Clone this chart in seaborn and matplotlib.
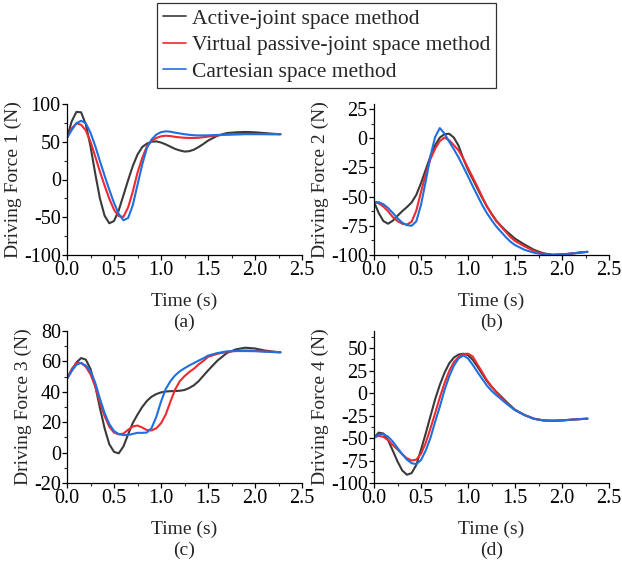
"""Driving forces of the four actuators for three modelling methods."""

import matplotlib
matplotlib.use("Agg")
import matplotlib.pyplot as plt
import numpy as np
import pandas as pd
import seaborn as sns
from matplotlib.ticker import MultipleLocator

# time samples (s)
time = [0.00, 0.05, 0.10, 0.15, 0.20, 0.25, 0.30, 0.35, 0.40, 0.45,
        0.50, 0.55, 0.60, 0.65, 0.70, 0.75, 0.80, 0.85, 0.90, 0.95,
        1.00, 1.05, 1.10, 1.15, 1.20, 1.25, 1.30, 1.35, 1.40, 1.45,
        1.50, 1.60, 1.70, 1.80, 1.90, 2.00, 2.10, 2.20, 2.27]

methods = ["Active-joint space method",
           "Virtual passive-joint space method",
           "Cartesian space method"]

# driving force 1 (N)
f1_active = [55, 77, 89.5, 89, 73, 44, 8, -25, -48, -58,
             -55, -41, -21, -1, 18, 33, 43, 47.5, 50, 50.5,
             49, 46.5, 43.5, 40.5, 38.5, 37, 37.5, 39.5, 43, 47,
             51.5, 58, 61.5, 62.5, 63, 62.5, 61.5, 60.5, 60]
f1_virtual = [55, 67.5, 74.5, 72.5, 65, 50, 30.7, 10.5, -8, -25.5,
              -40, -48.5, -49.5, -37, -16, 9, 28.5, 44, 51, 55,
              57.2, 58, 57.5, 56.5, 55.8, 55.3, 55, 55, 55.3, 56,
              56.8, 58.5, 59.5, 60, 60.3, 60.3, 60.2, 60, 60]
f1_cartesian = [55, 65.5, 74.5, 77.8, 74.5, 62, 44.5, 24.5, 5, -13.5,
                -31, -45.5, -54, -51, -34, -7, 19.6, 41.7, 53, 59.5,
                62.7, 63.8, 63.3, 62, 61, 60, 59.2, 58.6, 58.4, 58.4,
                58.5, 59, 59.5, 59.8, 60, 60, 60, 60, 60]

# driving force 2 (N)
f2_active = [-54.6, -64, -71, -73.2, -70.6, -66.5, -62.5, -59, -55, -48.5,
             -38.5, -27, -15.5, -6, 0.5, 3.5, 3.8, 0.5, -6.5, -17.5,
             -27, -35, -43, -51, -58.3, -64.5, -70.5, -75, -79, -82.5,
             -86, -91, -95.5, -98.5, -99.8, -99.5, -98.8, -97.8, -97.3]
f2_virtual = [-54.6, -55.7, -58.5, -62.6, -67.5, -71, -73.2, -74, -71.5, -62,
              -46, -31, -18, -9, -2.5, 0.6, -1.8, -6, -10.5, -17.5,
              -25.5, -33.5, -41.5, -50, -58.2, -65, -71, -75.5, -80, -84.5,
              -88, -92.5, -96.5, -99, -99.8, -99.5, -98.8, -97.8, -97.3]
f2_cartesian = [-54.6, -54.8, -56.5, -59.8, -64, -68.5, -72.3, -74.4, -75, -71.2,
                -57, -37, -15.5, 1, 8.7, 4, -3, -9.5, -16.5, -24.5,
                -32.6, -41, -49, -57, -64, -70, -75.5, -80, -84.5, -88.5,
                -91.5, -95.5, -98, -99.5, -100, -99.5, -98.8, -97.8, -97.3]

# driving force 3 (N)
f3_active = [48.6, 54, 59.3, 62.2, 61.2, 55, 44, 29.5, 16, 5.5,
             0.5, -0.5, 4, 12, 19.5, 25, 30, 34, 36.8, 38.5,
             39.6, 40.2, 40.4, 40.5, 40.7, 41.2, 42.5, 44.3, 47, 50.5,
             54, 60.5, 65.5, 68, 69, 68.5, 67.2, 66.4, 66]
f3_virtual = [48.6, 55, 59, 59, 56.5, 51.5, 43.5, 33, 24, 17,
              13.2, 12, 12.5, 15, 17.2, 17.8, 16.5, 14.8, 14.6, 16,
              19.3, 25, 33.5, 41.5, 47, 50.3, 53, 55.2, 58, 60.3,
              63, 65, 66.2, 67, 67.2, 67, 66.6, 66.2, 66]
f3_cartesian = [48.6, 53.7, 57.8, 59, 57.3, 53.5, 46, 35.5, 26, 18.8,
                14.2, 12.2, 11.5, 11.6, 12.3, 13, 13, 13.2, 16.2, 23.5,
                33.5, 41.8, 47, 50.8, 53.5, 55.5, 57.3, 58.9, 60.5, 62,
                63.8, 65.5, 66.6, 66.8, 66.8, 66.7, 66.4, 66.1, 66]

# driving force 4 (N)
f4_active = [-49.6, -44, -45, -52.5, -64, -76, -86, -90.8, -89, -80,
             -63, -45, -26, -7, 9, 22.5, 33, 39.5, 42.8, 43.7,
             42.2, 37, 29.5, 21.5, 13.5, 6.8, 1.5, -3.5, -8.8, -13.8,
             -18.5, -24.4, -28.5, -30.4, -30.8, -30.4, -29.6, -28.9, -28.5]
f4_virtual = [-49.6, -47.5, -48.7, -52.3, -57.8, -62.8, -68, -72.5, -75, -74,
              -67.5, -55.5, -39.5, -22.5, -5, 11, 24.5, 34.5, 40, 43.4,
              43.8, 40.7, 32, 23.5, 14.5, 7.5, 1.2, -4.5, -9.8, -14.5,
              -18.8, -24.4, -28.5, -30.4, -30.8, -30.4, -29.6, -28.9, -28.5]
f4_cartesian = [-49.6, -46.3, -45.6, -48.5, -54, -61, -67.8, -74, -78, -79,
                -74.5, -64, -50, -32, -15.2, 3.3, 18.5, 30.5, 38.5, 41.8,
                38.5, 31.5, 23.5, 16, 8.5, 2.5, -2.2, -6.5, -11, -15,
                -19, -24.4, -28.5, -30.4, -30.8, -30.4, -29.6, -28.9, -28.5]

forces = [(f1_active, f1_virtual, f1_cartesian),
          (f2_active, f2_virtual, f2_cartesian),
          (f3_active, f3_virtual, f3_cartesian),
          (f4_active, f4_virtual, f4_cartesian)]
ylabels = ["Driving Force 1 (N)", "Driving Force 2 (N)",
           "Driving Force 3 (N)", "Driving Force 4 (N)"]
panel_tags = ["(a)", "(b)", "(c)", "(d)"]
ylims = [(-100, 100), (-100, 29.3), (-20, 80), (-100, 69)]
ymajor = [50, 25, 20, 25]

colors = ["#3a3a3a", "#ee2a2e", "#1f6fe0"]

sns.set_style("ticks")
plt.rcParams["font.family"] = ["Liberation Serif", "DejaVu Serif"]
plt.rcParams["font.size"] = 14

W, H = 622, 566
fig = plt.figure(figsize=(W / 100, H / 100), dpi=100)

# axes boxes in pixels: left, top, right, bottom
boxes = [(67, 104, 302, 255), (374, 104, 609, 255),
         (67, 331, 302, 483), (374, 331, 609, 483)]
tag_y = [322, 322, 550, 550]

for i, (l, t, r, b) in enumerate(boxes):
    ax = fig.add_axes([l / W, 1 - b / H, (r - l) / W, (b - t) / H])
    df = pd.DataFrame({"time": time * 3,
                       "force": np.concatenate(forces[i]),
                       "method": np.repeat(methods, len(time))})
    sns.lineplot(data=df, x="time", y="force", hue="method",
                 palette=colors, linewidth=1.5, ax=ax, legend=(i == 0))
    ax.set_xlim(0, 2.5)
    ax.set_ylim(*ylims[i])
    ax.xaxis.set_major_locator(MultipleLocator(0.5))
    ax.xaxis.set_minor_locator(MultipleLocator(0.25))
    ax.yaxis.set_major_locator(MultipleLocator(ymajor[i]))
    ax.yaxis.set_minor_locator(MultipleLocator(ymajor[i] / 2))
    ax.xaxis.set_major_formatter(lambda v, p: f"{v:.1f}")
    ax.yaxis.set_major_formatter(lambda v, p: f"{v:.0f}")
    ax.tick_params(which="major", direction="out", length=3.5, width=0.9,
                   labelsize=14.5, pad=1, colors="black")
    ax.tick_params(which="minor", direction="out", length=2, width=0.8)
    for side in ["left", "bottom"]:
        ax.spines[side].set_linewidth(0.9)
        ax.spines[side].set_color("black")
    sns.despine(ax=ax)
    ax.set_xlabel("Time (s)", fontsize=14, labelpad=9)
    ax.set_ylabel(ylabels[i], fontsize=14, labelpad=1)
    fig.text((l + r) / 2 / W, 1 - tag_y[i] / H, panel_tags[i],
             ha="center", va="center", fontsize=14)
    if i == 0:
        handles, labels = ax.get_legend_handles_labels()
        ax.get_legend().remove()

leg = fig.legend(handles, labels, loc="upper center",
                 bbox_to_anchor=(326.5 / W, 1 - 3 / H), fontsize=15.5,
                 frameon=True, fancybox=False, handlelength=1.1,
                 handletextpad=0.25, labelspacing=0.3, borderpad=0.27,
                 borderaxespad=0)
leg.get_frame().set_edgecolor("black")
leg.get_frame().set_linewidth(0.9)
for line in leg.get_lines():
    line.set_linewidth(1.2)

fig.savefig("out.png", dpi=100)
